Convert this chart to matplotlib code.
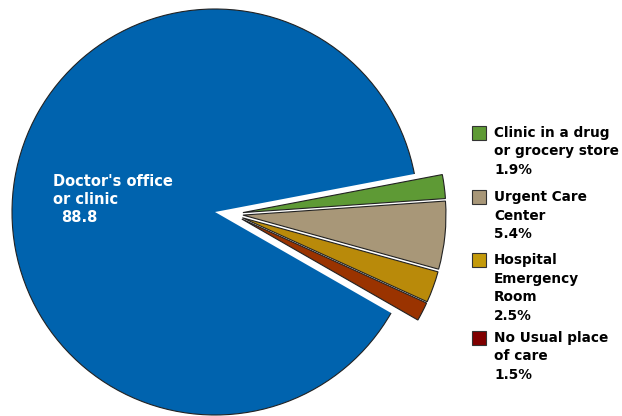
import matplotlib.pyplot as plt
from matplotlib.patches import Rectangle, Arc

# small slices, listed top to bottom as they sit on the right of the pie
labels = ["Clinic in a drug\nor grocery store", "Urgent Care\nCenter",
          "Hospital\nEmergency\nRoom", "No Usual place\nof care"]
shares = [1.9, 5.4, 2.5, 1.5]
slice_colors = ['#5E9A35', '#A89778', '#B98A0A', '#9A3300']
key_colors = ['#5E9A35', '#A89778', '#C49A0A', '#800000']

main_label = "Doctor's office\nor clinic"
main_share = 88.8
main_color = '#0063AE'

W, H = 622, 416
R = 203
cx, cy = 215, H - 212

fig = plt.figure(figsize=(W / 100, H / 100), dpi=100)
ax = fig.add_axes([0, 0, 1, 1])

# pie goes counterclockwise, so the small slices are fed in reverse
values = shares[::-1] + [main_share]
colors = slice_colors[::-1] + [main_color]
start = 10.8 - sum(shares) * 360 / sum(values)
wedges, _ = ax.pie(values, colors=colors, startangle=start, radius=R,
                   center=(cx, cy), explode=[11, 11, 11, 11, 0], frame=True,
                   wedgeprops=dict(edgecolor='none'))

# push the small slices out together to the right
for w in wedges[:-1]:
    x0, y0 = w.center
    w.set_center((x0 + 17, y0 - 2))
    w.set_edgecolor('#222222')
    w.set_linewidth(0.8)

# thin dark rim along the outside of the big slice
big = wedges[-1]
ax.add_patch(Arc((cx, cy), 2 * R, 2 * R, theta1=big.theta1, theta2=big.theta2,
                 color='#222222', linewidth=0.8))

ax.set_xlim(0, W)
ax.set_ylim(0, H)
ax.set_aspect('equal')
ax.axis('off')

step = 18.5

# label inside the big slice
font = dict(fontsize=10.5, fontweight='bold', family='DejaVu Sans')
for i, line in enumerate(main_label.split('\n')):
    ax.text(53, H - 181 - i * step, line, color='white', va='center', **font)
ax.text(61, H - 217, f"{main_share}", color='white', va='center', **font)

# key on the right
font = dict(fontsize=9.8, fontweight='bold', family='DejaVu Sans')
key_tops = [126, 190, 253, 331]
for lab, val, col, top in zip(labels, shares, key_colors, key_tops):
    ax.add_patch(Rectangle((472, H - top - 14), 14, 14, facecolor=col,
                           edgecolor='#333333', linewidth=0.8))
    lines = lab.split('\n') + [f"{val}%"]
    for i, line in enumerate(lines):
        ax.text(494, H - top - 7 - i * step, line, color='black',
                va='center', **font)

fig.savefig('out.png', dpi=100)
